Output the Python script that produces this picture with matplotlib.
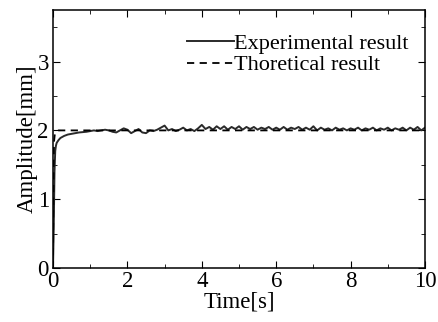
import numpy as np
import matplotlib
matplotlib.use("Agg")
import matplotlib.pyplot as plt
from matplotlib.ticker import MultipleLocator

# experimental curve: fast rise, then samples every 0.1 s from 1 s to 10 s
t_rise = [0, 0.02, 0.04, 0.06, 0.08, 0.1, 0.15, 0.2, 0.3, 0.4, 0.5, 0.6, 0.7, 0.8, 0.9]
amp_rise = [0, 0.6, 1.4, 1.7, 1.78, 1.82, 1.86, 1.89, 1.92, 1.94, 1.95, 1.96, 1.97, 1.975, 1.98]
t_steady = [round(1.0 + 0.1 * i, 1) for i in range(91)]
amp_steady = [
    1.99, 2.00, 1.99, 2.00, 2.01, 2.00, 1.98, 1.97, 2.00, 2.03,
    2.01, 1.96, 1.99, 2.02, 1.97, 1.96, 2.00, 1.99, 2.01, 2.04,
    2.07, 2.00, 2.02, 1.99, 2.01, 2.04, 2.00, 2.02, 1.99, 2.03,
    2.08, 2.02, 2.05, 2.01, 2.06, 2.02, 2.06, 2.01, 2.05, 2.02,
    2.06, 2.01, 2.05, 2.02, 2.05, 2.01, 2.04, 2.02, 2.05, 2.01,
    2.04, 2.01, 2.05, 2.01, 2.04, 2.02, 2.05, 2.01, 2.04, 2.01,
    2.06, 2.00, 2.04, 2.01, 2.03, 2.00, 2.04, 2.01, 2.03, 2.00,
    2.03, 2.01, 2.04, 2.00, 2.03, 2.01, 2.04, 2.00, 2.03, 2.01,
    2.04, 2.00, 2.03, 2.01, 2.04, 2.00, 2.04, 2.01, 2.05, 2.00,
    2.04,
]

# theoretical curve
t_theory = [0, 0.01, 0.02, 0.03, 0.05, 0.08, 0.1, 0.15, 0.2, 0.3, 10]
amp_theory = [0, 1.0, 1.6, 1.85, 1.95, 1.98, 1.99, 2.0, 2.0, 2.0, 2.0]

plt.rcParams['font.family'] = ['Liberation Serif', 'DejaVu Serif']

fig = plt.figure(figsize=(4.38, 3.22), dpi=100)
ax = fig.add_axes([53 / 438, 1 - 268 / 322, (425 - 53) / 438, (268 - 10) / 322])

ax.plot(t_rise + t_steady, amp_rise + amp_steady, color='#2a2a2a', lw=1.4,
        label='Experimental result')
ax.plot(t_theory, amp_theory, color='black', lw=1.3, ls=(0, (4, 3)),
        label='Thoretical result')

ax.set_xlim(0, 10)
ax.set_ylim(0, 3.75)
ax.xaxis.set_major_locator(MultipleLocator(2))
ax.xaxis.set_minor_locator(MultipleLocator(1))
ax.yaxis.set_major_locator(MultipleLocator(1))
ax.yaxis.set_minor_locator(MultipleLocator(0.5))
ax.tick_params(which='both', direction='in', top=True, right=True, labelsize=16.5)
ax.tick_params(axis='x', pad=2)
ax.tick_params(axis='y', pad=3)
ax.tick_params(which='major', length=5)
ax.tick_params(which='minor', length=3)
for s in ax.spines.values():
    s.set_linewidth(1.1)

ax.set_xlabel('Time[s]', fontsize=16.5, labelpad=0)
ax.set_ylabel('Amplitude[mm]', fontsize=16.5, labelpad=0)

ax.legend(loc='upper right', frameon=False, fontsize=16, handlelength=2.1,
          handletextpad=0.0, labelspacing=0.05, borderaxespad=0.0, borderpad=0.0,
          bbox_to_anchor=(0.955, 0.91))

fig.savefig('out.png', dpi=100)
